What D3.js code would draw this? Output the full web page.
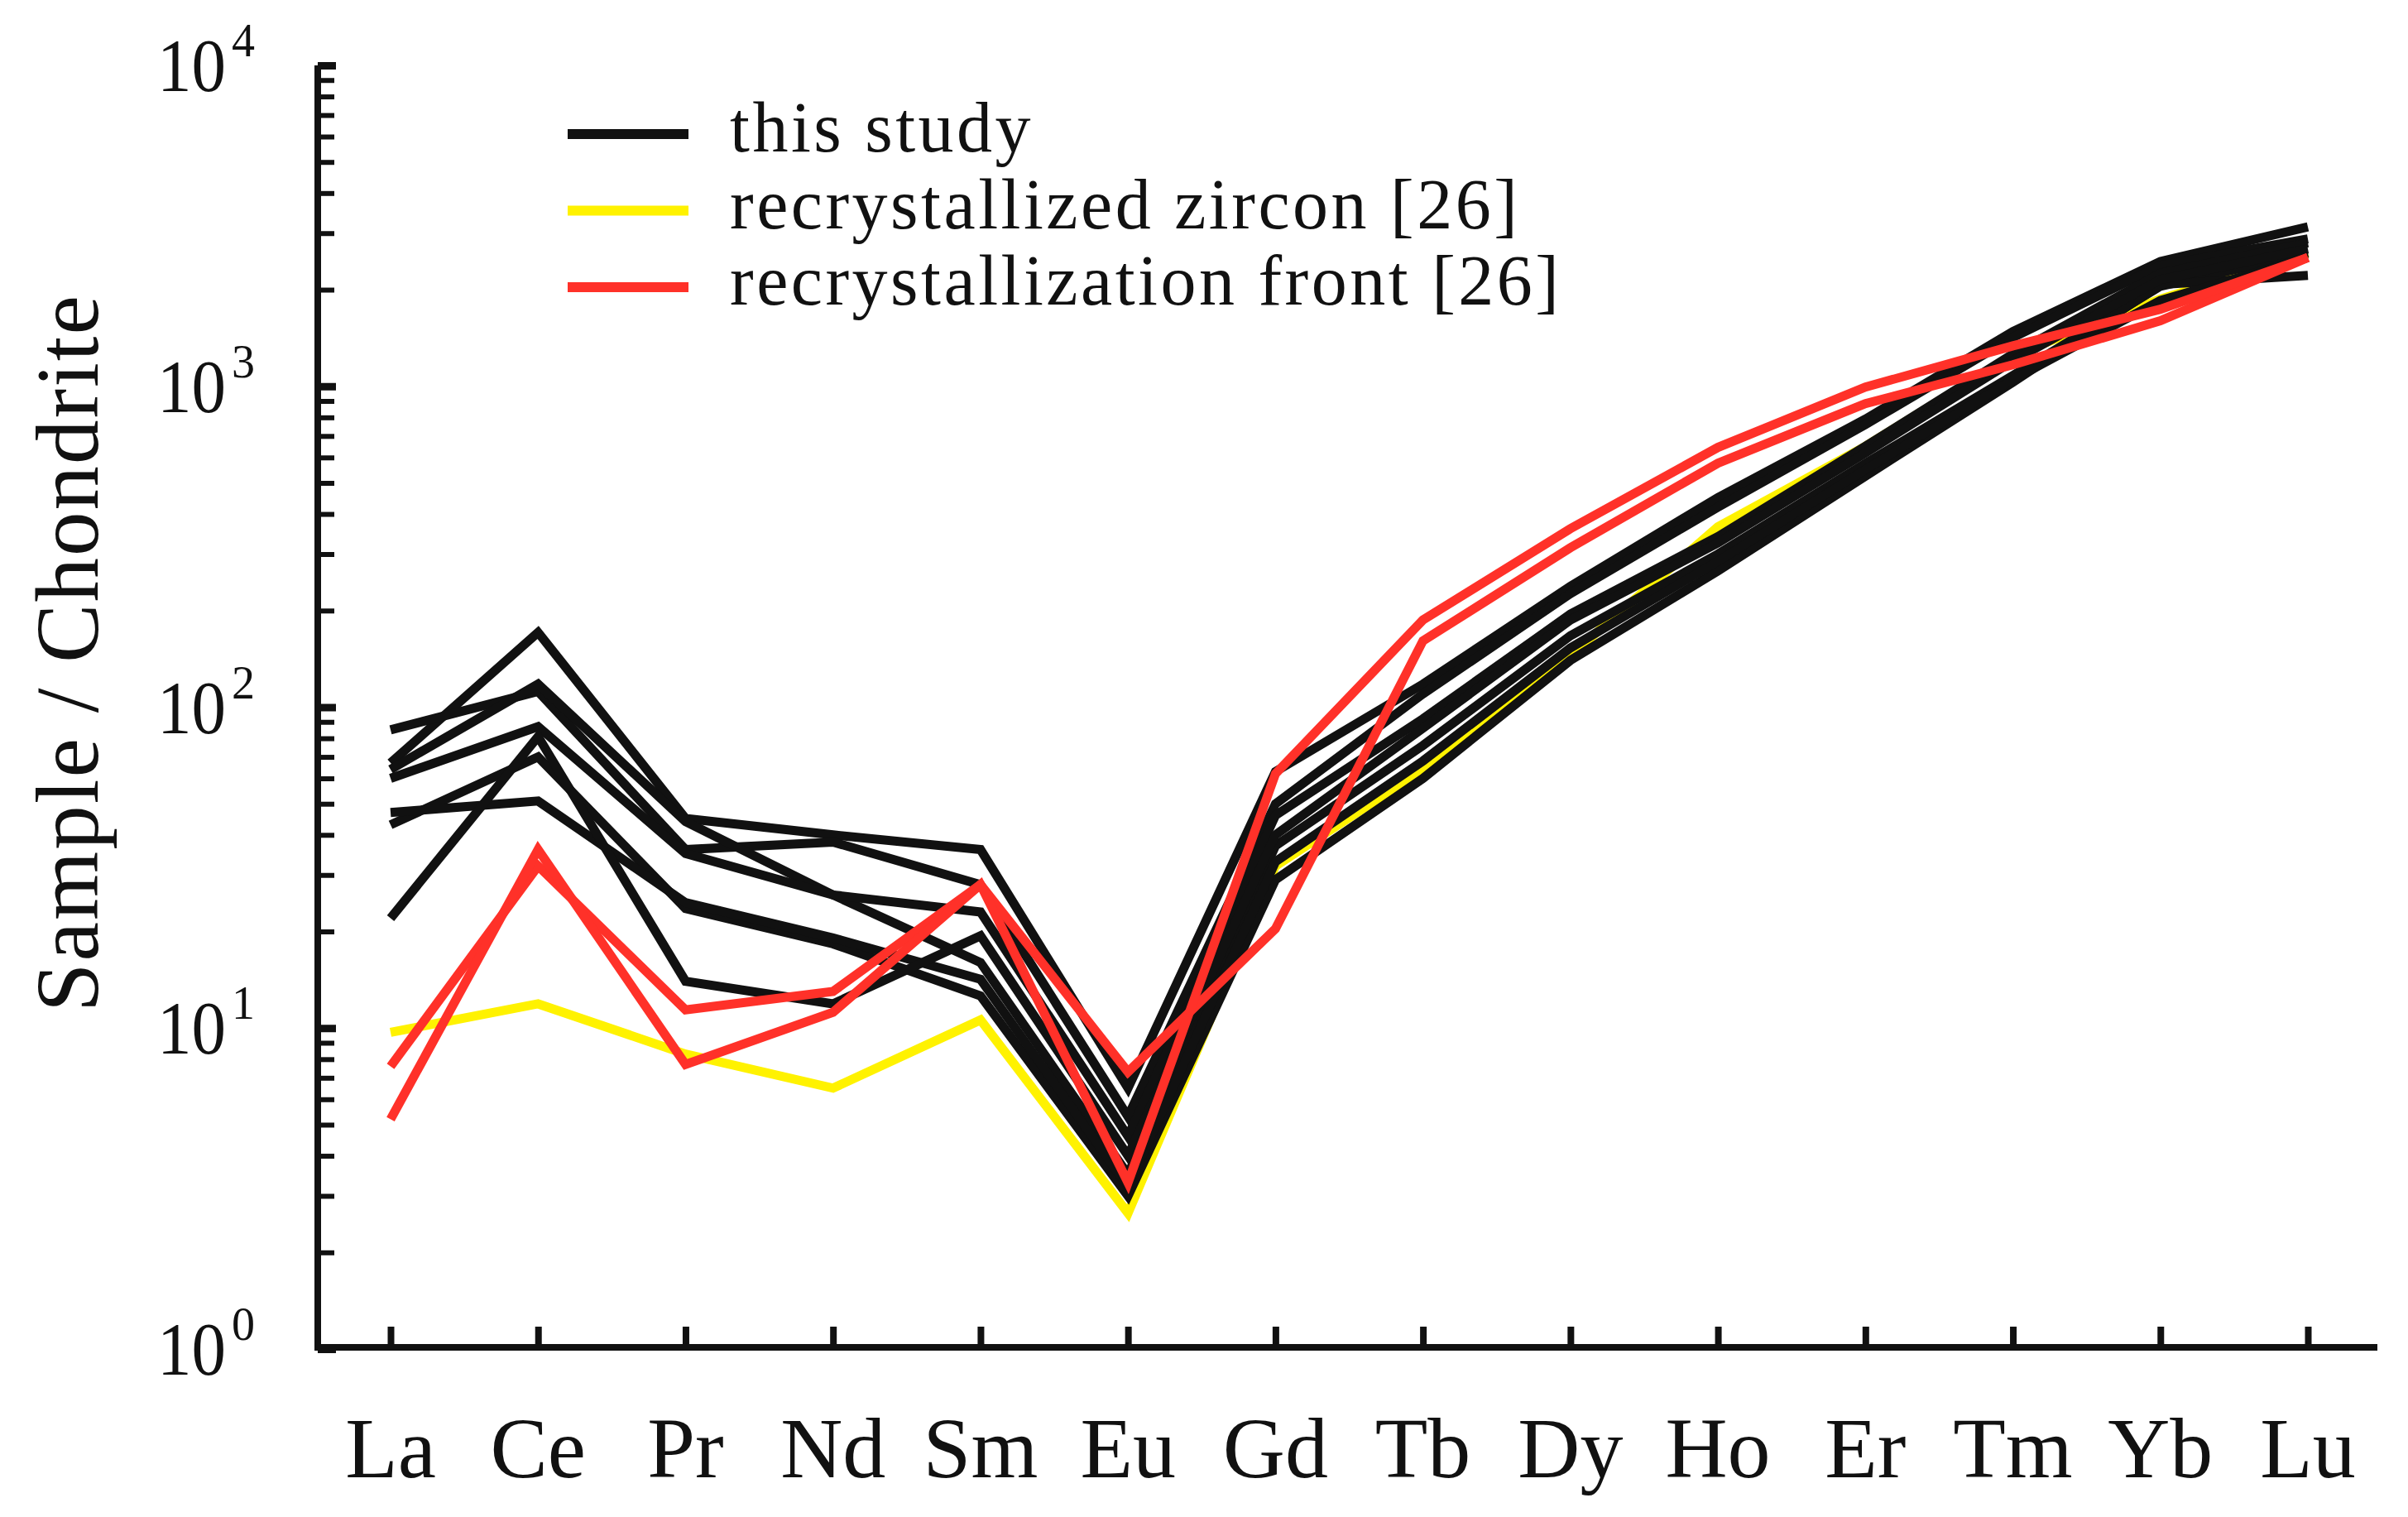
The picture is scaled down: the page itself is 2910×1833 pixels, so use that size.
<!DOCTYPE html>
<html>
<head>
<meta charset="utf-8">
<script src="https://cdn.jsdelivr.net/npm/d3@7"></script>
<style>
body{margin:0;background:#fff;}
text{font-family:"Liberation Serif","Times New Roman",serif;fill:#111;}
</style>
</head>
<body>
<div id="chart"></div>
<script>
var w = 2910;
var h = 1833;

// REE categories
var elements = ["La","Ce","Pr","Nd","Sm","Eu","Gd","Tb","Dy","Ho","Er","Tm","Yb","Lu"];

// this study (chondrite normalised)
var study1 = [67, 171, 45, 40, 36, 6.5, 63, 118, 238, 450, 790, 1480, 2450, 3140];
var study2 = [85, 112, 36, 38, 28, 5.3, 50, 110, 226, 420, 760, 1420, 2380, 2880];
var study3 = [64, 118, 44, 26, 16, 3.5, 37, 76, 167, 300, 575, 1080, 2050, 2600];
var study4 = [60, 87, 35, 26, 23, 4.6, 46, 92, 195, 340, 650, 1260, 2250, 2800];
var study5 = [43, 70, 23.6, 18.3, 12.6, 3.0, 29, 60, 140, 266, 525, 1030, 2075, 2215];
var study6 = [47, 51, 24.6, 19.1, 14.2, 3.2, 33, 68, 153, 285, 550, 1050, 1850, 2520];
var study7 = [22, 81, 14, 11.9, 19.4, 4.0, 40, 86, 187, 325, 620, 1200, 2150, 2680];
var studySeries = [study1, study2, study3, study4, study5, study6, study7];

// recrystallized zircon [26]
var zircon = [9.7, 11.9, 8.3, 6.5, 10.6, 2.65, 32, 64, 145, 365, 650, 1250, 1870, 2600];

// recrystallization front [26]
var frontA = [7.6, 32, 11.4, 13.0, 28, 7.3, 20.4, 161, 314, 576, 883, 1167, 1600, 2520];
var frontB = [5.2, 36, 7.7, 11.2, 28, 3.3, 62, 187, 360, 645, 994, 1337, 1738, 2520];
var frontSeries = [frontA, frontB];

var decades = [1, 10, 100, 1000, 10000];
var exponents = ["0", "1", "2", "3", "4"];

var legendNames = ["this study", "recrystallized zircon [26]", "recrystallization front [26]"];
var colBlack = "#111111", colYellow = "#fff200", colRed = "#ff3129";
var legendColors = [colBlack, colYellow, colRed];

var svg = d3.select("#chart").append("svg")
  .attr("width", w)
  .attr("height", h)
  .style("background", "#fff");

var x = d3.scalePoint()
  .domain(elements)
  .range([472, 2789]);

var y = d3.scaleLog()
  .domain([1, 10000])
  .range([1630, 79]);

var minorTicks = [];
decades.slice(0, 4).forEach(function(d){
  for (var k = 2; k < 10; k++) minorTicks.push(k * d);
});

var line = d3.line()
  .x(function(d, i){ return x(elements[i]); })
  .y(function(d){ return y(d); });

// data lines
svg.append("path")
  .datum(zircon)
  .attr("d", line)
  .attr("fill", "none")
  .attr("stroke", colYellow)
  .attr("stroke-width", 11)
  .attr("stroke-linejoin", "miter")
  .attr("stroke-miterlimit", 10);

svg.selectAll(".study")
  .data(studySeries)
  .enter().append("path")
  .attr("class", "study")
  .attr("d", line)
  .attr("fill", "none")
  .attr("stroke", colBlack)
  .attr("stroke-width", 11)
  .attr("stroke-linejoin", "miter")
  .attr("stroke-miterlimit", 10);

svg.selectAll(".front")
  .data(frontSeries)
  .enter().append("path")
  .attr("class", "front")
  .attr("d", line)
  .attr("fill", "none")
  .attr("stroke", colRed)
  .attr("stroke-width", 11)
  .attr("stroke-linejoin", "miter")
  .attr("stroke-miterlimit", 10);

// y axis ticks (inside)
var gMinor = svg.append("g")
  .attr("transform", "translate(384,0)")
  .call(d3.axisRight(y).tickValues(minorTicks).tickSize(20).tickSizeOuter(0).tickFormat(""));
gMinor.select(".domain").remove();
gMinor.selectAll("line").attr("stroke", colBlack).attr("stroke-width", 6);

var gMajor = svg.append("g")
  .attr("transform", "translate(384,0)")
  .call(d3.axisRight(y).tickValues(decades).tickSize(22).tickSizeOuter(0).tickFormat(""));
gMajor.select(".domain").remove();
gMajor.selectAll("line").attr("stroke", colBlack).attr("stroke-width", 9);

// x axis ticks (inside)
var gx = svg.append("g")
  .attr("transform", "translate(0,1628)")
  .call(d3.axisTop(x).tickSize(25).tickSizeOuter(0).tickFormat(""));
gx.select(".domain").remove();
gx.selectAll("line").attr("stroke", colBlack).attr("stroke-width", 8);

// frame
svg.append("path")
  .attr("d", "M384,79V1628H2873")
  .attr("fill", "none")
  .attr("stroke", colBlack)
  .attr("stroke-width", 8);

// y tick labels 10^n
decades.forEach(function(d, i){
  svg.append("text")
    .attr("x", 273)
    .attr("y", y(d) + 31)
    .attr("text-anchor", "end")
    .attr("font-size", 92)
    .attr("textLength", 83)
    .attr("lengthAdjust", "spacingAndGlyphs")
    .text("10");
  svg.append("text")
    .attr("x", 280)
    .attr("y", y(d) - 11)
    .attr("font-size", 56)
    .text(exponents[i]);
});

// x labels
svg.selectAll(".xlab")
  .data(elements)
  .enter().append("text")
  .attr("class", "xlab")
  .attr("x", function(d){ return x(d); })
  .attr("y", 1785)
  .attr("text-anchor", "middle")
  .attr("font-size", 104)
  .text(function(d){ return d; });

// y title
svg.append("text")
  .attr("transform", "translate(118,789) rotate(-90)")
  .attr("text-anchor", "middle")
  .attr("font-size", 107)
  .attr("letter-spacing", 2)
  .text("Sample / Chondrite");

// legend
var leg = svg.append("g");
legendNames.forEach(function(name, i){
  var ly = 162 + i * 92.5;
  leg.append("line")
    .attr("x1", 686).attr("x2", 832)
    .attr("y1", ly).attr("y2", ly)
    .attr("stroke", legendColors[i])
    .attr("stroke-width", 12);
  leg.append("text")
    .attr("x", 882)
    .attr("y", ly + 21)
    .attr("font-size", 86)
    .attr("letter-spacing", 3.5)
    .text(name);
});
</script>
</body>
</html>
